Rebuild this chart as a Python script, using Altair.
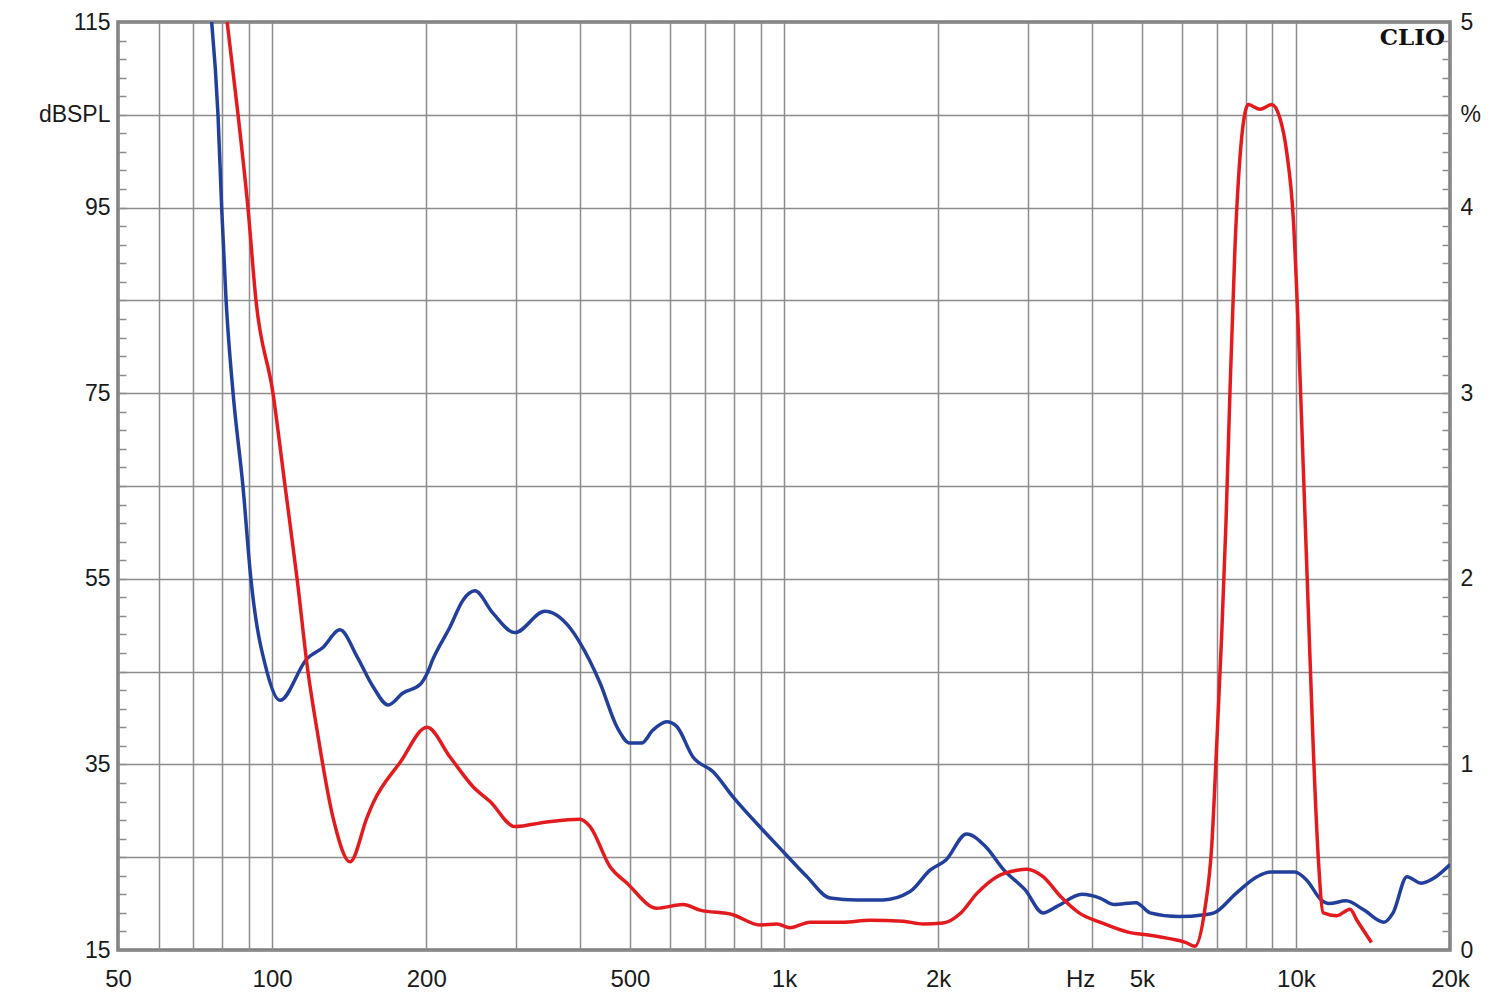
import altair as alt
import pandas as pd

# ---- data ----
blue_freq = [76.2, 78.4, 79.7, 81.3, 83.9, 87.7, 90.9, 97.7, 103.6, 117, 125.7, 135.7, 146.6, 157.4, 168.5,
             180.2, 194.5, 200.8, 206, 222.6, 236, 249, 270, 298, 341, 382, 399.5, 437, 472, 500, 527,
             554.6, 590, 617, 664, 727, 795, 910, 1004, 1109, 1230, 1388, 1561, 1763, 1929, 2072, 2273,
             2480, 2690, 2957, 3206, 3415, 3820, 4142, 4412, 4871, 5190, 5900, 6615, 6920, 7640, 8395,
             8940, 9945, 10510, 11200, 11600, 12530, 13590, 14860, 15480, 16480, 17550, 18780, 20000]
blue_db = [115, 105, 95, 85, 75, 65, 55, 45, 41.9, 46.4, 47.6, 49.5, 46.6, 43.4, 41.4,
           42.7, 43.6, 44.8, 46.3, 49.8, 52.7, 53.7, 51.3, 49.2, 51.5, 49.7, 48.1, 43.8, 39.0, 37.3, 37.3,
           38.7, 39.6, 39.1, 35.8, 34.2, 31.5, 27.9, 25.4, 22.9, 20.6, 20.4, 20.4, 21.3, 23.6, 24.7, 27.5,
           26.1, 23.6, 21.5, 19.0, 19.7, 21.0, 20.6, 19.9, 20.1, 19.0, 18.6, 18.8, 19.0, 21.1, 22.9,
           23.4, 23.4, 22.5, 20.4, 20.0, 20.3, 19.3, 18.0, 19.0, 22.9, 22.2, 22.9, 24.2]

red_freq = [81.7, 85.8, 89.7, 93.0, 100.4, 106, 111.9, 117.5, 122.4, 131.5, 142, 153.3, 157.4, 177.8, 200.8,
            222.6, 246.9, 266.6, 298, 344, 399.5, 418, 457, 493.6, 564.7, 635, 685.5, 795, 897, 969,
            1027, 1124, 1304, 1472, 1709, 1869, 2045, 2207, 2382, 2606, 2852, 2983, 3206, 3478, 3770,
            4142, 4720, 5190, 5701, 6100, 6350, 6644, 6846, 7000, 7161, 7300, 7434, 7604, 7776, 7953,
            8074, 8509, 8968, 9311, 9594, 9884, 10110, 10340, 10570, 10810, 11060, 11310, 12020, 12760,
            13160, 14050]
red_pct = [5.0, 4.5, 4.0, 3.5, 3.0, 2.5, 2.0, 1.5, 1.185, 0.715, 0.475, 0.715, 0.79, 1.01, 1.2,
           1.04, 0.88, 0.8, 0.665, 0.69, 0.705, 0.665, 0.45, 0.36, 0.225, 0.245, 0.215, 0.19, 0.135, 0.14,
           0.12, 0.15, 0.15, 0.16, 0.155, 0.14, 0.145, 0.195, 0.305, 0.395, 0.43, 0.435, 0.395, 0.285, 0.2,
           0.15, 0.095, 0.08, 0.06, 0.04, 0.02, 0.225, 0.555, 1.095, 1.695, 2.295, 3.01, 3.79, 4.27, 4.51,
           4.555, 4.53, 4.555, 4.48, 4.3, 3.94, 3.34, 2.59, 1.845, 1.095, 0.495, 0.2, 0.185, 0.22,
           0.16, 0.04]

# ---- axis ticks / labels ----
x_grid = [50, 60, 70, 80, 90, 100, 200, 300, 400, 500, 600, 700, 800, 900,
          1000, 2000, 3000, 4000, 5000, 6000, 7000, 8000, 9000, 10000, 20000]
x_label_values = [50, 100, 200, 500, 1000, 2000, 4000, 5000, 10000, 20000]
x_label_texts = ["50", "100", "200", "500", "1k", "2k", "Hz", "5k", "10k", "20k"]
unit_label_value = 4000

left_ticks = list(range(15, 116, 2))
left_label_values = [15, 35, 55, 75, 95, 105, 115]
left_label_texts = ["15", "35", "55", "75", "95", "dBSPL", "115"]

right_ticks = [round(i * 0.1, 1) for i in range(51)]
right_label_values = [0, 1, 2, 3, 4, 4.5, 5]
right_label_texts = ["0", "1", "2", "3", "4", "%", "5"]

corner_text = ["CLIO"]

BLUE = "#22409b"
RED = "#e31b1f"
GRID = "#8c8c8c"
FONT = "Liberation Sans"


def label_expr(values, texts):
    expr = "''"
    for v, t in reversed(list(zip(values, texts))):
        expr = f"abs(datum.value - {v}) < 0.001 ? '{t}' : ({expr})"
    return expr


blue_df = pd.DataFrame({"freq": blue_freq, "value": blue_db})
red_df = pd.DataFrame({"freq": red_freq, "value": red_pct})
clio_df = pd.DataFrame({"freq": [20000], "value": [5.0], "label": corner_text})

x_scale = alt.Scale(type="log", domain=[50, 20000], nice=False)
x_axis = alt.Axis(values=x_grid, labelExpr=label_expr(x_label_values, x_label_texts),
                  ticks=False, domain=False, grid=True, gridColor=GRID, gridWidth=1.5,
                  labelFlush=False, labelOverlap=False, labelFont=FONT, labelFontSize=24,
                  labelColor="#1a1a1a", labelPadding=17, title=None,
                  labelOffset={"condition": {"test": f"datum.value == {unit_label_value}", "value": -12},
                               "value": 0})

left_axis = alt.Axis(values=left_ticks, orient="left", offset=-8, tickSize=8, tickWidth=1.5,
                     tickColor=GRID, domain=False, grid=True, gridColor=GRID, gridWidth=1.5,
                     gridOpacity={"condition": {"test": "(datum.value - 15) % 10 == 0", "value": 1}, "value": 0},
                     labelExpr=label_expr(left_label_values, left_label_texts),
                     labelOverlap=False, labelFont=FONT, labelFontSize=23, labelColor="#1a1a1a",
                     labelPadding=8, title=None)

right_axis = alt.Axis(values=right_ticks, orient="right", offset=-8, tickSize=8, tickWidth=1.5,
                      tickColor=GRID, domain=False, grid=False,
                      labelExpr=label_expr(right_label_values, right_label_texts),
                      labelOverlap=False, labelFont=FONT, labelFontSize=23, labelColor="#1a1a1a",
                      labelPadding=10, title=None)

blue_line = alt.Chart(blue_df).mark_line(color=BLUE, strokeWidth=3.5, interpolate="monotone", clip=True).encode(
    x=alt.X("freq:Q", scale=x_scale, axis=x_axis),
    y=alt.Y("value:Q", scale=alt.Scale(domain=[15, 115], nice=False, zero=False), axis=left_axis),
)

red_y = alt.Y("value:Q", scale=alt.Scale(domain=[0, 5], nice=False, zero=False), axis=right_axis)

red_line = alt.Chart(red_df).mark_line(color=RED, strokeWidth=3.5, interpolate="monotone", clip=True).encode(
    x=alt.X("freq:Q", scale=x_scale, axis=x_axis),
    y=red_y,
)

clio = alt.Chart(clio_df).mark_text(font="DejaVu Serif", fontWeight="bold", fontSize=23, color="#111111",
                                    align="right", baseline="alphabetic", dx=-5, dy=23).encode(
    x=alt.X("freq:Q", scale=x_scale, axis=x_axis),
    y=red_y,
    text="label:N",
)

chart = alt.layer(blue_line, alt.layer(red_line, clio)).resolve_scale(y="independent").resolve_axis(
    y="independent"
).properties(
    width=1332, height=928,
    autosize=alt.AutoSizeParams(type="none"),
    padding={"left": 118, "top": 22, "right": 50, "bottom": 56},
    background="white",
).configure_view(stroke="#7d7d7d", strokeWidth=3.5)

chart.save("out.html", embed_options={"renderer": "svg", "actions": False})
